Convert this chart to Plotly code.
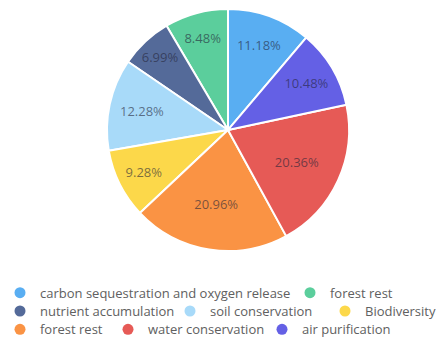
import plotly.graph_objects as go

labels = ["carbon sequestration and oxygen release", "forest rest", "nutrient accumulation",
          "soil conservation", "Biodiversity", "forest rest", "water conservation", "air purification"]
values = [11.18, 8.48, 6.99, 12.28, 9.28, 20.96, 20.36, 10.48]
colors = ["#59AEF2", "#5BCE9C", "#546A99", "#A8DAF9", "#FCD84A", "#FA9344", "#E65A56", "#6460E5"]
ids = ["carbon", "forest_g", "nutrient", "soil", "bio", "forest_o", "water", "air"]

# legend layout: which legend row each entry belongs to, and entry widths
legend_rows = ["legend", "legend", "legend2", "legend2", "legend2", "legend3", "legend3", "legend3"]
entry_widths = [245, 80, 125, 110, 68, 63, 109, 90]

fig = go.Figure()
fig.add_trace(go.Pie(
    labels=ids, values=values, sort=False, direction="counterclockwise",
    rotation=0,
    marker=dict(colors=colors, line=dict(color="white", width=2)),
    texttemplate="%{value:.2f}%", textposition="inside",
    insidetextorientation="horizontal",
    textfont=dict(size=13, color="rgba(35,35,55,0.6)", family="Open Sans"),
    showlegend=False, hoverinfo="skip",
    domain=dict(x=[0.2409, 0.7955], y=[0.0078, 0.9647]),
))

for lab, col, lg, w in zip(labels, colors, legend_rows, entry_widths):
    fig.add_trace(go.Scatter(
        x=[None], y=[None], mode="markers", name=lab,
        marker=dict(color=col, size=11, symbol="circle"),
        legend=lg, legendwidth=w, showlegend=True,
    ))

legend_common = dict(orientation="h", x=0, xanchor="left", yanchor="middle",
                     font=dict(size=13, color="#606060", family="Open Sans"),
                     bgcolor="rgba(0,0,0,0)", itemclick=False)
plot_h = 255
fig.update_layout(
    width=440, height=345,
    margin=dict(l=0, r=0, t=0, b=90),
    paper_bgcolor="white", plot_bgcolor="white",
    xaxis=dict(visible=False), yaxis=dict(visible=False),
    legend=dict(y=(plot_h - 295) / plot_h, **legend_common),
    legend2=dict(y=(plot_h - 313.5) / plot_h, **legend_common),
    legend3=dict(y=(plot_h - 332) / plot_h, **legend_common),
)
fig.write_html("out.html")
